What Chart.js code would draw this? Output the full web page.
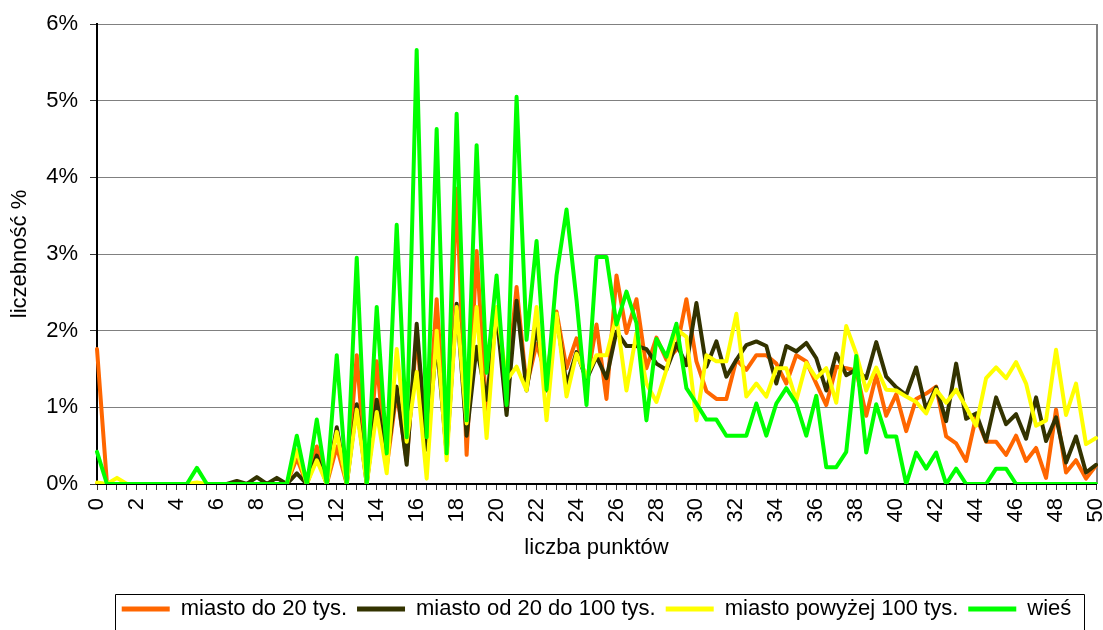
<!DOCTYPE html>
<html>
<head>
<meta charset="utf-8">
<script src="https://cdn.jsdelivr.net/npm/chart.js@4"></script>
<style>
  html, body { margin: 0; padding: 0; background: #ffffff; }
  #wrap { width: 1103px; height: 630px; position: relative; }
</style>
</head>
<body>
<div id="wrap"><canvas id="c" width="1103" height="630"></canvas></div>
<script>
// x categories (liczba punktów, step 0.5)
const categories = ['0','0.5','1','1.5','2','2.5','3','3.5','4','4.5',
  '5','5.5','6','6.5','7','7.5','8','8.5','9','9.5',
  '10','10.5','11','11.5','12','12.5','13','13.5','14','14.5',
  '15','15.5','16','16.5','17','17.5','18','18.5','19','19.5',
  '20','20.5','21','21.5','22','22.5','23','23.5','24','24.5',
  '25','25.5','26','26.5','27','27.5','28','28.5','29','29.5',
  '30','30.5','31','31.5','32','32.5','33','33.5','34','34.5',
  '35','35.5','36','36.5','37','37.5','38','38.5','39','39.5',
  '40','40.5','41','41.5','42','42.5','43','43.5','44','44.5',
  '45','45.5','46','46.5','47','47.5','48','48.5','49','49.5',
  '50'];

const seriesNames = ['miasto do 20 tys.', 'miasto od 20 do 100 tys.', 'miasto powyżej 100 tys.', 'wieś'];

// values in %
const miastoDo20 = [
  1.76, 0, 0, 0, 0, 0, 0, 0, 0, 0,
  0, 0, 0, 0, 0, 0, 0, 0, 0, 0,
  0.34, 0, 0.49, 0, 0.49, 0, 1.68, 0, 1.60, 0.22,
  1.20, 0.30, 1.95, 0.45, 2.41, 0.45, 3.85, 0.38, 3.04, 0.90,
  2.30, 1.20, 2.57, 1.27, 1.83, 1.40, 2.25, 1.51, 1.90, 1.31,
  2.08, 1.11, 2.72, 1.97, 2.41, 1.51, 1.91, 1.62, 1.75, 2.41,
  1.60, 1.21, 1.11, 1.11, 1.62, 1.49, 1.68, 1.68, 1.57, 1.31,
  1.68, 1.60, 1.31, 1.03, 1.53, 1.51, 1.48, 0.89, 1.42, 0.89,
  1.17, 0.69, 1.11, 1.18, 1.27, 0.62, 0.53, 0.30, 0.88, 0.55,
  0.55, 0.38, 0.63, 0.30, 0.47, 0.08, 0.97, 0.15, 0.31, 0.07,
  0.24
];

const miastoOd20Do100 = [
  0, 0, 0, 0, 0, 0, 0, 0, 0, 0,
  0, 0, 0, 0, 0.04, 0, 0.09, 0, 0.08, 0,
  0.14, 0, 0.37, 0, 0.74, 0, 1.04, 0, 1.10, 0.30,
  1.27, 0.25, 2.09, 0.45, 1.85, 0.40, 2.35, 0.63, 1.79, 1.10,
  2.22, 0.90, 2.39, 1.22, 2.05, 1.22, 2.20, 1.29, 1.72, 1.36,
  1.66, 1.38, 1.99, 1.80, 1.80, 1.76, 1.57, 1.49, 1.83, 1.55,
  2.36, 1.53, 1.86, 1.40, 1.62, 1.81, 1.86, 1.80, 1.31, 1.80,
  1.73, 1.84, 1.64, 1.22, 1.70, 1.42, 1.49, 1.38, 1.85, 1.40,
  1.26, 1.16, 1.52, 0.97, 1.26, 0.82, 1.57, 0.85, 0.92, 0.56,
  1.13, 0.78, 0.91, 0.59, 1.13, 0.56, 0.87, 0.28, 0.62, 0.15,
  0.25
];

const miastoPowyzej100 = [
  0.02, 0, 0.08, 0, 0, 0, 0, 0, 0, 0,
  0.02, 0, 0, 0, 0, 0, 0, 0, 0, 0,
  0.44, 0, 0.31, 0, 0.68, 0, 0.97, 0, 0.94, 0.14,
  1.76, 0.55, 1.46, 0.07, 2.00, 0.31, 2.31, 0.79, 2.31, 0.60,
  2.31, 1.35, 1.53, 1.22, 2.31, 0.83, 2.22, 1.14, 1.70, 1.40,
  1.68, 1.68, 2.19, 1.22, 1.97, 1.31, 1.07, 1.49, 2.02, 1.92,
  0.83, 1.68, 1.60, 1.60, 2.22, 1.14, 1.31, 1.14, 1.51, 1.51,
  1.09, 1.58, 1.38, 1.51, 1.06, 2.06, 1.70, 1.22, 1.52, 1.23,
  1.22, 1.14, 1.07, 0.92, 1.23, 1.06, 1.23, 1.00, 0.76, 1.38,
  1.52, 1.38, 1.59, 1.31, 0.76, 0.83, 1.75, 0.90, 1.31, 0.52,
  0.60
];

const wies = [
  0.42, 0, 0, 0, 0, 0, 0, 0, 0, 0,
  0.21, 0, 0, 0, 0, 0, 0, 0, 0, 0,
  0.63, 0, 0.84, 0, 1.68, 0, 2.95, 0, 2.31, 0.40,
  3.38, 0.61, 5.66, 0.61, 4.63, 0.40, 4.83, 0.83, 4.42, 1.45,
  2.72, 1.03, 5.05, 1.88, 3.17, 1.23, 2.72, 3.58, 2.40, 1.03,
  2.96, 2.96, 2.08, 2.51, 2.10, 0.83, 1.89, 1.66, 2.09, 1.25,
  1.05, 0.84, 0.84, 0.63, 0.63, 0.63, 1.05, 0.63, 1.05, 1.25,
  1.05, 0.63, 1.15, 0.22, 0.22, 0.42, 1.67, 0.41, 1.04, 0.62,
  0.62, 0, 0.41, 0.20, 0.41, 0, 0.20, 0, 0, 0,
  0.20, 0.20, 0, 0, 0, 0, 0, 0, 0, 0,
  0
];

const yTickValues = [0, 1, 2, 3, 4, 5, 6];
const xAxisTitle = 'liczba punktów';
const yAxisTitle = 'liczebność %';

const colors = ['#FF6600', '#333300', '#FFFF00', '#00FF00'];
const FONT = "'Liberation Sans', Arial, sans-serif";

const seriesData = [miastoDo20, miastoOd20Do100, miastoPowyzej100, wies];

const datasets = seriesData.map((d, i) => ({
  label: seriesNames[i],
  data: d,
  borderColor: colors[i],
  backgroundColor: colors[i],
  borderWidth: 4,
  pointRadius: 0,
  pointHoverRadius: 0,
  tension: 0,
  fill: false,
  borderJoinStyle: 'round',
  borderCapStyle: 'round',
  order: 4 - i
}));

const framePlugin = {
  id: 'frame',
  beforeDatasetsDraw(chart) {
    const {ctx, chartArea} = chart;
    ctx.save();
    ctx.strokeStyle = '#808080';
    ctx.lineWidth = 2;
    ctx.beginPath();
    ctx.moveTo(chartArea.right + 1, chartArea.top);
    ctx.lineTo(chartArea.right + 1, chartArea.bottom);
    ctx.stroke();
    ctx.restore();
  },
  afterDraw(chart) {
    const lg = chart.legend;
    if (!lg || !lg.legendHitBoxes || !lg.legendHitBoxes.length) return;
    const hb = lg.legendHitBoxes;
    const first = hb[0], last = hb[hb.length - 1];
    const x0 = Math.round(first.left - 7) + 0.5;
    const x1 = Math.round(last.left + last.width + 13) + 0.5;
    const y0 = Math.round(first.top - 4) + 0.5;
    const ctx = chart.ctx;
    ctx.save();
    ctx.strokeStyle = '#000000';
    ctx.lineWidth = 1;
    ctx.beginPath();
    ctx.moveTo(x0, chart.height + 5);
    ctx.lineTo(x0, y0);
    ctx.lineTo(x1, y0);
    ctx.lineTo(x1, chart.height + 5);
    ctx.stroke();
    ctx.restore();
  }
};

new Chart(document.getElementById('c'), {
  type: 'line',
  data: { labels: categories, datasets },
  plugins: [framePlugin],
  options: {
    responsive: false,
    animation: false,
    layout: { autoPadding: false, padding: { left: 0, top: 24, right: 7, bottom: 0 } },
    plugins: {
      tooltip: { enabled: false },
      legend: {
        position: 'bottom',
        fullSize: false,
        labels: {
          font: { family: FONT, size: 22 },
          color: '#000000',
          boxWidth: 48,
          boxHeight: 5,
          padding: 10,
          generateLabels: (chart) => chart.data.datasets.map((ds, i) => ({
            text: ds.label,
            fillStyle: ds.borderColor,
            strokeStyle: ds.borderColor,
            lineWidth: 0,
            hidden: false,
            datasetIndex: i,
            fontColor: '#000000'
          }))
        }
      }
    },
    scales: {
      x: {
        type: 'category',
        offset: false,
        afterFit: (s) => { s.height = 104; s.paddingLeft = 0; s.paddingRight = 0; },
        grid: {
          display: true,
          drawOnChartArea: false,
          drawTicks: true,
          tickLength: 6,
          tickColor: '#333333',
          offset: false
        },
        border: { display: true, color: '#000000', width: 2 },
        ticks: {
          autoSkip: false,
          maxRotation: 90,
          minRotation: 90,
          padding: 8,
          color: '#000000',
          font: { family: FONT, size: 22 },
          callback: function(value, index) {
            const lab = categories[index];
            return (Number(lab) % 2 === 0) ? lab : '';
          }
        },
        title: {
          display: true,
          text: xAxisTitle,
          color: '#000000',
          font: { family: FONT, size: 22 },
          padding: { top: 0, bottom: 27 }
        }
      },
      y: {
        min: 0,
        max: 6,
        afterFit: (s) => { s.width = 97; s.paddingTop = 0; s.paddingBottom = 0; },
        afterBuildTicks: (s) => { s.ticks = yTickValues.map(v => ({ value: v })); },
        grid: {
          color: '#808080',
          lineWidth: 1,
          drawTicks: true,
          tickLength: 7,
          tickColor: '#333333'
        },
        border: { display: true, color: '#000000', width: 2 },
        ticks: {
          padding: 12,
          color: '#000000',
          font: { family: FONT, size: 22 },
          callback: (v) => v + '%'
        },
        title: {
          display: true,
          text: yAxisTitle,
          color: '#000000',
          font: { family: FONT, size: 22 },
          padding: { top: 7, bottom: 0 }
        }
      }
    }
  }
});
</script>
</body>
</html>
